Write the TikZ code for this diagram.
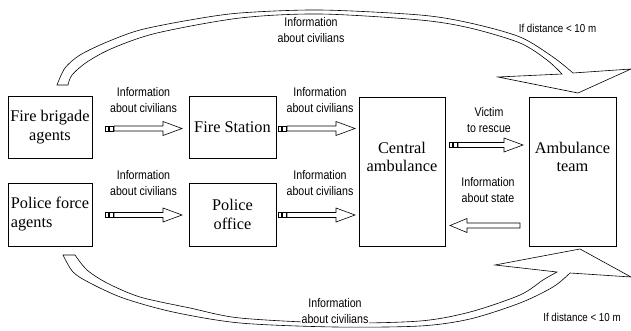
\documentclass[tikz,border=0pt]{standalone}
\usepackage{fontspec}
\setmainfont{Liberation Serif}
\newfontfamily\serifbox{Liberation Serif}
\newfontfamily\lblfont[FakeStretch=0.85]{Liberation Sans}
\begin{document}
\begin{tikzpicture}[x=1pt,y=-1pt,
  boxnode/.style={draw,line width=0.8pt,rectangle,inner sep=0pt,font=\serifbox\fontsize{16.3}{19}\selectfont,align=center},
  boxtext/.style={inner sep=0pt,font=\serifbox\fontsize{16.3}{18}\selectfont,align=center},
  lbl/.style={inner sep=0.5pt,font=\lblfont\fontsize{12.5}{16}\selectfont,align=center},
  cond/.style={inner sep=0pt,font=\lblfont\fontsize{11.5}{14}\selectfont},
  blk/.style={draw,line width=0.6pt,fill=white,line join=miter},
  curvearrow/.style={draw,line width=0.6pt,fill=white,line join=miter}]
\useasboundingbox (0,0) rectangle (631,331);
\newcommand\rarrow[3]{%
  \draw[blk] (#1-8.5,#3-2.5) rectangle (#1-5.5,#3+2.5);
  \draw[blk] (#1-4.5,#3-2.5) rectangle (#1-1,#3+2.5);
  \draw[blk] (#1,#3-2.5) -- (#2-19,#3-2.5) -- (#2-19,#3-7) -- (#2,#3) -- (#2-19,#3+7) -- (#2-19,#3+2.5) -- (#1,#3+2.5) -- cycle;}
\newcommand\larrow[3]{%
  \draw[blk] (#1,#3-2.5) -- (#2+17,#3-2.5) -- (#2+17,#3-7) -- (#2,#3) -- (#2+17,#3+7) -- (#2+17,#3+2.5) -- (#1,#3+2.5) -- cycle;}
% boxes
\node[boxnode,minimum width=84pt,minimum height=61.5pt] (fb) at (50,127.5) {Fire brigade\\agents};
\node[boxnode,minimum width=87pt,minimum height=61.5pt] (fs) at (232.5,127.5) {Fire Station};
\node[boxnode,minimum width=84pt,minimum height=63pt,align=left] (pf) at (50,214.5) {Police force\\agents};
\node[boxnode,minimum width=87pt,minimum height=63pt] (po) at (232.5,214.5) {Police\\office};
\node[boxnode,minimum width=86pt,minimum height=149pt] (ca) at (402,171.5) {};
\node[boxnode,minimum width=87pt,minimum height=149pt] (at) at (572.5,171.5) {};
\node[boxtext] (catext) at (402,157) {Central\\ambulance};
\node[boxtext] (attext) at (572.5,157) {Ambulance\\team};
% straight block arrows
\rarrow{114}{182}{128.5}
\rarrow{287}{355}{128.5}
\rarrow{114}{182}{215}
\rarrow{287}{355}{215}
\rarrow{458}{523}{145}
\larrow{520}{450}{225.5}
% labels
\node[lbl] (l1) at (143.5,100) {Information\\about civilians};
\node[lbl] (l2) at (320,100) {Information\\about civilians};
\node[lbl] (l3) at (143.5,183.5) {Information\\about civilians};
\node[lbl] (l4) at (320,183.5) {Information\\about civilians};
\node[lbl] (l5) at (489,120) {Victim\\to rescue};
\node[lbl] (l6) at (488,190.5) {Information\\about state};
% top curved arrow
\draw[curvearrow] plot[smooth] coordinates {(57,85) (65,68) (80,55) (107,42) (140,30) (190,20) (240,13) (320,10) (420,15) (470,23) (520,37) (553,57) (573,73)}
  -- (631,69) -- (578,93) -- (498,77)
  -- plot[smooth] coordinates {(562,74) (547,60) (520,43) (470,28) (420,20) (320,14) (240,18) (157,33) (113,48) (87,62) (72,75) (68,85)} -- cycle;
% bottom curved arrow
\draw[curvearrow] plot[smooth] coordinates {(63,255) (73,272) (90,283) (123,298) (173,312) (240,323) (335,327) (420,326) (470,319) (520,303) (553,287) (570,273)}
  -- (631,277) -- (580,249) -- (495,265)
  -- plot[smooth] coordinates {(557,272) (543,280) (520,295) (470,312) (420,321) (335,323) (240,318) (190,308) (140,297) (107,283) (87,270) (75,255)} -- cycle;
\node[lbl] (ltop) at (311,30) {Information\\about civilians};
\node[lbl,fill=white] (lbot) at (335,311.5) {Information\\about civilians};
\node[cond] (ctop) at (557.5,28) {If distance < 10 m};
\node[cond] (cbot) at (582,317) {If distance < 10 m};
\end{tikzpicture}
\end{document}
